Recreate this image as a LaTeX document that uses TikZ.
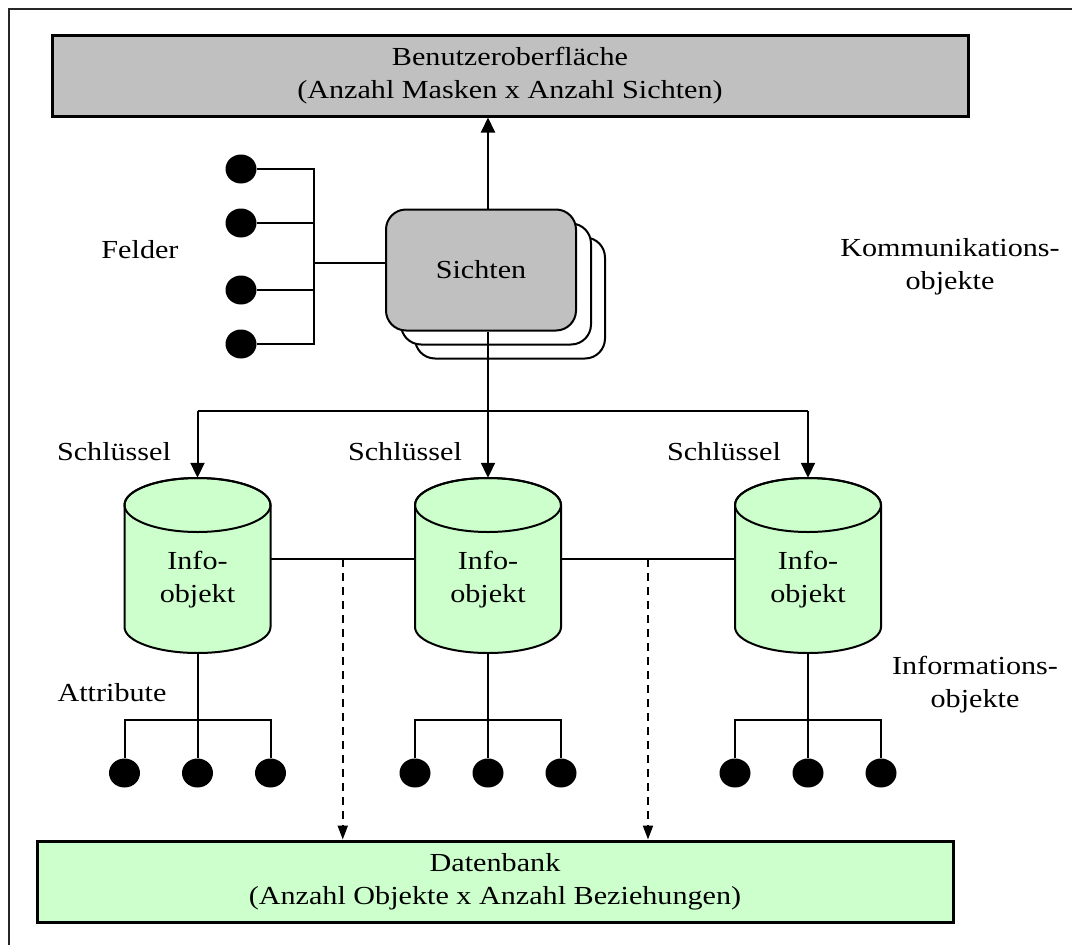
\documentclass[tikz,border=0pt]{standalone}
\usepackage{fontspec}
\setmainfont{Liberation Serif}[FakeStretch=1.16]
\usetikzlibrary{shapes.geometric,arrows.meta,calc}
\definecolor{boxgray}{HTML}{C0C0C0}
\definecolor{infogreen}{HTML}{CCFFCC}
\newcommand\infocyl[2]{%
  \path[fill=infogreen,draw,conn] (#2-73,505) -- (#2-73,627)
    arc[start angle=180,end angle=360,x radius=73pt,y radius=26pt]
    -- (#2+73,505)
    arc[start angle=0,end angle=180,x radius=73pt,y radius=27pt] -- cycle;
  \draw[conn] (#2,505) ellipse[x radius=73pt,y radius=27pt];
  \node[cylbody] (#1) at (#2,565.5) {};
  \node[lbl] (#1t) at (#2,579.5) {Info-\\objekt};
}
\begin{document}
\begin{tikzpicture}[x=1pt,y=-1pt,font=\fontsize{26}{33}\selectfont,
  conn/.style={line width=2pt},
  arr/.style={conn,-{Triangle[length=15pt,width=14pt]}},
  darr/.style={line width=2pt,dash pattern=on 8pt off 6pt,-{Triangle[length=14pt,width=10pt]}},
  bigbox/.style={draw,line width=3pt,minimum width=916pt,minimum height=81pt,align=center,inner sep=0pt},
  dot/.style={ellipse,fill=black,minimum width=31pt,minimum height=29pt,inner sep=0pt},
  lbl/.style={align=center,inner sep=0pt},
  view/.style={draw,line width=2pt,rounded corners=20pt,minimum width=190pt,minimum height=121pt,fill=white},
  cylbody/.style={rectangle,minimum width=146pt,minimum height=175pt,inner sep=0pt}
]
\useasboundingbox (0,0) rectangle (1072,945);
% frame
\draw[line width=2pt,black!85] (1072,8.5) -- (8.5,8.5) -- (8.5,945);

% boxes
\node[bigbox,fill=boxgray] (ui) at (510,75.5) {Benutzeroberfläche\\(Anzahl Masken x Anzahl Sichten)};
\node[bigbox,fill=infogreen] (db) at (495,881.5) {Datenbank\\(Anzahl Objekte x Anzahl Beziehungen)};

% views
\node[view] (sv3) at (510,298) {};
\node[view] (sv2) at (496,284) {};
\node[view,fill=boxgray] (sichten) at (481,270) {Sichten};

\coordinate (vx) at (488,0);
\coordinate (br) at (488,411);
\draw[arr] (sichten.north -| vx) -- (ui.south -| vx);
\draw[conn] (sichten.south -| vx) -- (br);

% cylinders
\infocyl{c1}{197.5}
\infocyl{c2}{488}
\infocyl{c3}{808}

\draw[conn] (c1.north |- br) -- (c3.north |- br);
\draw[arr] (c1.north |- br) -- (c1.north);
\draw[arr] (br) -- (c2.north);
\draw[arr] (c3.north |- br) -- (c3.north);

% connections between info objects
\coordinate (cy) at (0,559);
\draw[conn] (c1.east |- cy) -- (c2.west |- cy);
\draw[conn] (c2.east |- cy) -- (c3.west |- cy);
\coordinate (d1) at ($(c1.east |- cy)!0.5!(c2.west |- cy)$);
\coordinate (d2) at ($(c2.east |- cy)!0.5!(c3.west |- cy)$);
\draw[darr] (d1) -- (d1 |- db.north);
\draw[darr] (d2) -- (d2 |- db.north);

% attributes
\coordinate (ay) at (0,720);
\foreach \c/\x in {c1/197.5,c2/488,c3/808}{
  \node[dot] (\c a1) at (\x-73,773) {};
  \node[dot] (\c a2) at (\x,773) {};
  \node[dot] (\c a3) at (\x+73,773) {};
  \draw[conn] (\c.south) -- (\c a2.north);
  \draw[conn] (\c a1.north) -- (\c a1 |- ay) -- (\c a3 |- ay) -- (\c a3.north);
}

% fields
\node[dot] (f1) at (241,169) {};
\node[dot] (f2) at (241,223) {};
\node[dot] (f3) at (241,290) {};
\node[dot] (f4) at (241,344) {};
\coordinate (fx) at (314,0);
\coordinate (fy) at (0,263);
\draw[conn] (f1.east) -- (f1 -| fx) -- (f4 -| fx) -- (f4.east);
\draw[conn] (f2.east) -- (f2 -| fx);
\draw[conn] (f3.east) -- (f3 -| fx);
\draw[conn] (fx |- fy) -- (sichten.west |- fy);

% labels
\node[lbl] (felder) at (140,250) {Felder};
\node[lbl] (komm) at (950,267) {Kommunikations-\\objekte};
\node[lbl] (k1) at (114,452) {Schlüssel};
\node[lbl] (k2) at (405,452) {Schlüssel};
\node[lbl] (k3) at (724,452) {Schlüssel};
\node[lbl] (attr) at (112,693) {Attribute};
\node[lbl] (infoobj) at (975,684.5) {Informations-\\objekte};
\end{tikzpicture}
\end{document}
